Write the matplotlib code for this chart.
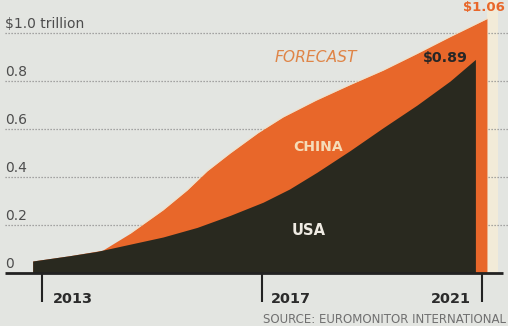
import matplotlib.pyplot as plt

# e-commerce sales, $ trillions (2017 onward is forecast)
total_years = [2012.83, 2013.5, 2014.1, 2014.6, 2015.2, 2015.64, 2016.0, 2016.42,
               2016.93, 2017.38, 2017.98, 2018.6, 2019.2, 2019.82, 2020.42, 2021.09]
total_vals = [0.05, 0.072, 0.095, 0.165, 0.263, 0.346, 0.425, 0.50,
              0.585, 0.65, 0.72, 0.785, 0.845, 0.915, 0.985, 1.06]
usa_years = [2012.83, 2013.5, 2014.0, 2014.6, 2015.2, 2015.82, 2016.42, 2017.02,
             2017.5, 2018.0, 2018.6, 2019.2, 2019.82, 2020.42, 2020.88]
usa_vals = [0.05, 0.072, 0.09, 0.12, 0.15, 0.19, 0.24, 0.295,
            0.35, 0.42, 0.51, 0.605, 0.70, 0.80, 0.89]

grid_vals = [0.2, 0.4, 0.6, 0.8, 1.0]
grid_labels = ['0.2', '0.4', '0.6', '0.8', '$1.0 trillion']
tick_years = [2013, 2017, 2021]

bg = '#e3e5e1'
orange = '#e8672a'
dark = '#29291f'

fig = plt.figure(figsize=(5.08, 3.26), dpi=100)
fig.patch.set_facecolor(bg)
ax = fig.add_axes([0, 0, 1, 1])
ax.set_facecolor(bg)
ax.axis('off')

# 55 px per year, 240 px per $1 trillion
x0 = 2013 - 42 / 55
ax.set_xlim(x0, x0 + 508 / 55)
ax.set_ylim(-53 / 240, 273 / 240)

def px(x):
    return x0 + x / 55

# pale strip along the right edge of the chart
ax.axvspan(2021.09, 2021.29, ymin=53 / 326, ymax=1, color='#f2ebd8', lw=0, zorder=1)

# dotted gridlines
ax.hlines(grid_vals, px(5), px(508), colors='#8e8e8e', linestyles=(0, (1, 1.4)),
          lw=0.9, zorder=2)
for v, lab in zip(grid_vals + [0], grid_labels + ['0']):
    ax.text(px(5), v + 0.021, lab, fontsize=10, color='#4d4d4d', va='baseline',
            ha='left', family='DejaVu Sans', zorder=5)

# stacked areas
ax.fill_between(total_years, 0, total_vals, color=orange, lw=0, zorder=3)
ax.plot(total_years[3:], total_vals[3:], color='#f6dfc0', lw=0.8, alpha=0.7, zorder=3)
ax.fill_between(usa_years, 0, usa_vals, color=dark, lw=0, zorder=4)

# baseline and year ticks
ax.hlines(0, px(5), px(503), colors='#222222', lw=2, zorder=6)
ax.vlines(tick_years, -0.12, 0, colors='#222222', lw=1.5, zorder=6)
ax.text(px(53), -0.125, '2013', fontsize=10.4, fontweight='bold', color='#2b2b2b',
        ha='left', va='baseline')
ax.text(px(271), -0.125, '2017', fontsize=10.4, fontweight='bold', color='#2b2b2b',
        ha='left', va='baseline')
ax.text(px(471), -0.125, '2021', fontsize=10.4, fontweight='bold', color='#2b2b2b',
        ha='right', va='baseline')

# annotations
ax.text(px(275), 0.879, 'FORECAST', fontsize=11.2, style='italic', color='#df8446',
        ha='left', va='baseline', zorder=7)
ax.text(px(468), 0.879, '$0.89', fontsize=10.2, fontweight='bold', color='#262626',
        ha='right', va='baseline', zorder=7)
ax.text(px(318), 0.508, 'CHINA', fontsize=10.1, fontweight='bold', color='#f5dcb8',
        ha='center', va='baseline', zorder=7)
ax.text(px(309), 0.158, 'USA', fontsize=10.6, fontweight='bold', color='#efebe3',
        ha='center', va='baseline', zorder=7)
ax.text(px(505), 1.093, '$1.06', fontsize=9.5, fontweight='bold', color=orange,
        ha='right', va='baseline', zorder=7)

ax.text(px(506), -0.208, 'SOURCE: EUROMONITOR INTERNATIONAL', fontsize=8.5,
        color='#707070', ha='right', va='baseline')

fig.savefig('out.png', dpi=100, facecolor=bg)
